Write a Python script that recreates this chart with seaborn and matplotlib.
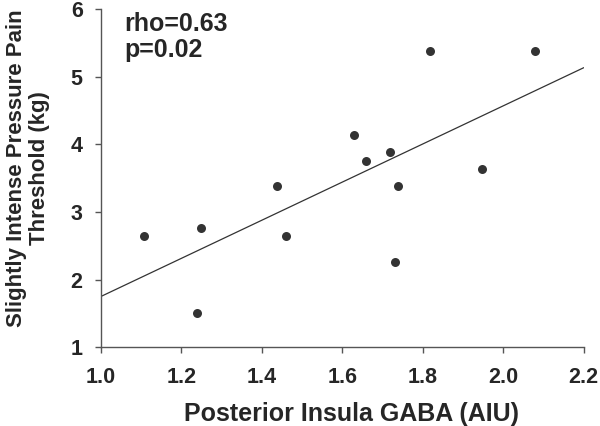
import numpy as np
import pandas as pd
import matplotlib
matplotlib.use("Agg")
import matplotlib.pyplot as plt
import seaborn as sns

gaba = [1.108, 1.248, 1.239, 1.439, 1.459, 1.629, 1.660, 1.719, 1.730, 1.739, 1.819, 1.948, 2.079]
threshold = [2.64, 2.76, 1.51, 3.39, 2.64, 4.14, 3.75, 3.89, 2.26, 3.39, 5.38, 3.64, 5.38]
x_ticks = [1.0, 1.2, 1.4, 1.6, 1.8, 2.0, 2.2]
y_ticks = [1, 2, 3, 4, 5, 6]

df = pd.DataFrame({"gaba": gaba, "threshold": threshold})

sns.set_style("ticks")
plt.rcParams['font.family'] = ['Liberation Sans', 'DejaVu Sans']
plt.rcParams['font.weight'] = 'bold'

fig = plt.figure(figsize=(6, 4.26), dpi=100)
ax = fig.add_axes([0.168, 0.185, 0.805, 0.794])

ax.set_xlim(1.0, 2.2)
ax.set_ylim(1, 6)
sns.regplot(data=df, x="gaba", y="threshold", ax=ax, ci=None, truncate=False,
            scatter_kws={"s": 42, "color": "black", "linewidths": 0},
            line_kws={"color": "#333333", "linewidth": 0.9})
ax.set_xlim(1.0, 2.2)
ax.set_ylim(1, 6)

ax.set_xticks(x_ticks)
ax.set_xticklabels([f"{t:.1f}" for t in x_ticks])
ax.set_yticks(y_ticks)
ax.tick_params(labelsize=15.5, length=4, width=1, color="#555555")
ax.tick_params(axis='x', pad=10)
ax.tick_params(axis='y', pad=9)
for lab in ax.get_xticklabels() + ax.get_yticklabels():
    lab.set_fontweight('bold')

sns.despine(ax=ax)
for s in ["left", "bottom"]:
    ax.spines[s].set_color("#555555")
    ax.spines[s].set_linewidth(1)

ax.set_xlabel("Posterior Insula GABA (AIU)", fontsize=18, fontweight='bold', labelpad=10)
ax.xaxis.label.set_x(0.52)
ax.set_ylabel("Slightly Intense Pressure Pain\nThreshold (kg)", fontsize=16, fontweight='bold',
              labelpad=15, linespacing=1.1)
ax.yaxis.label.set_y(0.53)

ax.text(0.048, 0.99, "rho=0.63\np=0.02", transform=ax.transAxes, fontsize=18,
        fontweight='bold', va='top', ha='left', linespacing=1.1)

fig.savefig("out.png", dpi=100)
